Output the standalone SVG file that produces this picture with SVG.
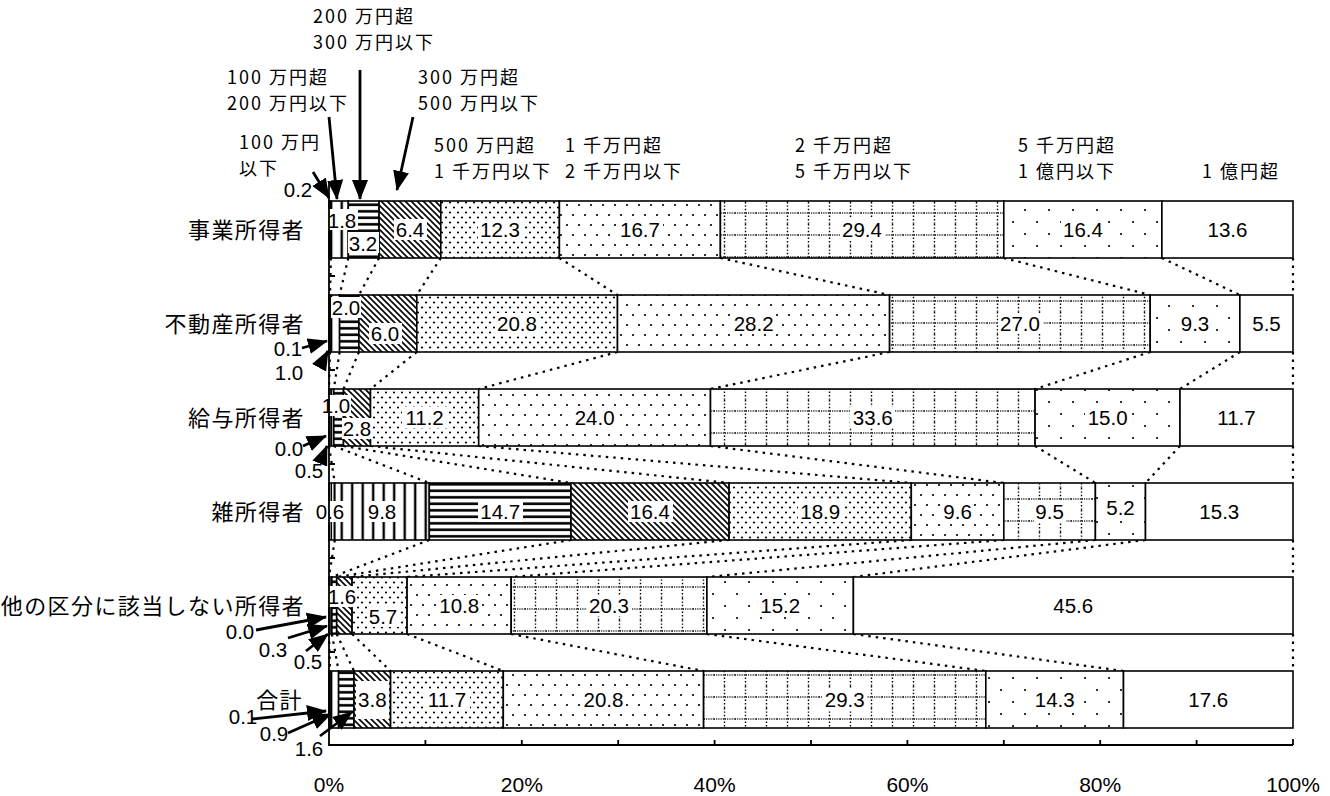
<svg xmlns="http://www.w3.org/2000/svg" width="1330" height="796" viewBox="0 0 1330 796">
<style>
.v{font-family:"Liberation Sans",Arial,sans-serif;font-size:20.5px;text-anchor:middle;fill:#000}
.cat{font-family:"Noto Sans CJK JP","Noto Sans CJK SC",sans-serif;font-size:22px;text-anchor:end;letter-spacing:1.4px;fill:#000}
.hd{font-family:"Noto Sans CJK JP","Noto Sans CJK SC",sans-serif;font-size:18px;letter-spacing:2px;fill:#000}
.ax{font-family:"Liberation Sans",Arial,sans-serif;font-size:21px;text-anchor:middle;fill:#000}
.seg{stroke:#000;stroke-width:1.6}
.bx{fill:#fff;stroke:none}
.sl{stroke:#000;stroke-width:2.2;stroke-dasharray:2.5,5;fill:none}
.ar{stroke:#000;stroke-width:2.8;fill:none;marker-end:url(#ah)}
.axl{stroke:#000;stroke-width:1.8;fill:none}
</style>
<defs>
<marker id="ah" markerWidth="20" markerHeight="16" refX="19" refY="8" orient="auto" markerUnits="userSpaceOnUse"><path d="M0,0 L20,8 L0,16 Z" fill="#000"/></marker>
<pattern id="p1" width="3" height="10" patternUnits="userSpaceOnUse"><rect width="3" height="10" fill="#fff"/><rect x="0.5" width="1.6" height="10" fill="#000"/></pattern>
<pattern id="p2" width="10.5" height="10" patternUnits="userSpaceOnUse"><rect width="10.5" height="10" fill="#fff"/><rect x="4.5" width="2.4" height="10" fill="#000"/></pattern>
<pattern id="p3" width="10" height="6.5" patternUnits="userSpaceOnUse"><rect width="10" height="6.5" fill="#fff"/><rect y="2" width="10" height="2.6" fill="#000"/></pattern>
<pattern id="p4" width="6" height="6" patternUnits="userSpaceOnUse"><rect width="6" height="6" fill="#fff"/><path d="M-1.5,-1.5 L7.5,7.5 M-1.5,4.5 L1.5,7.5 M4.5,-1.5 L7.5,1.5" stroke="#000" stroke-width="1.6"/></pattern>
<pattern id="p5" width="8" height="10" patternUnits="userSpaceOnUse"><rect width="8" height="10" fill="#fff"/><circle cx="2" cy="2.5" r="1.1" fill="#000"/><circle cx="6" cy="7.5" r="1.1" fill="#000"/></pattern>
<pattern id="p6" width="12" height="20" patternUnits="userSpaceOnUse"><rect width="12" height="20" fill="#fff"/><circle cx="3" cy="5" r="1.1" fill="#000"/><circle cx="9" cy="15" r="1.1" fill="#000"/></pattern>
<pattern id="p7" width="21" height="22" y="4" patternUnits="userSpaceOnUse"><rect width="21" height="22" fill="#fff"/><path d="M10.5,0 V22" stroke="#000" stroke-width="1.4" stroke-dasharray="1.4,2"/><path d="M0,11 H21" stroke="#000" stroke-width="1.3" stroke-dasharray="1,1.2"/></pattern>
<pattern id="p8" width="24" height="24" patternUnits="userSpaceOnUse"><rect width="24" height="24" fill="#fff"/><circle cx="5" cy="6" r="1.1" fill="#000"/><circle cx="17" cy="18" r="1.1" fill="#000"/></pattern>
</defs>
<rect width="1330" height="796" fill="#fff"/>

<g id="headers">
<text class="hd" x="313" y="23">200 万円超</text><text class="hd" x="313" y="49">300 万円以下</text>
<text class="hd" x="227" y="84">100 万円超</text><text class="hd" x="227" y="110">200 万円以下</text>
<text class="hd" x="418" y="84">300 万円超</text><text class="hd" x="418" y="110">500 万円以下</text>
<text class="hd" x="239" y="149">100 万円</text><text class="hd" x="239" y="175">以下</text>
<text class="hd" x="434" y="152">500 万円超</text><text class="hd" x="434" y="178">1 千万円以下</text>
<text class="hd" x="565" y="152">1 千万円超</text><text class="hd" x="565" y="178">2 千万円以下</text>
<text class="hd" x="795" y="152">2 千万円超</text><text class="hd" x="795" y="178">5 千万円以下</text>
<text class="hd" x="1018" y="152">5 千万円超</text><text class="hd" x="1018" y="178">1 億円以下</text>
<text class="hd" x="1202" y="178">1 億円超</text>
</g>

<g id="connectors">
<path class="sl" d="M330.9,258 L330,295 M348.3,258 L339.6,295 M379.1,258 L358.9,295 M440.8,258 L416.8,295 M559.4,258 L617.5,295 M720.4,258 L889.6,295 M1003.8,258 L1150.2,295 M1161.9,258 L1239.9,295 M1293,258 L1293,295"/>
<path class="sl" d="M330,352 L329,389 M339.6,352 L333.8,389 M358.9,352 L343.5,389 M416.8,352 L370.5,389 M617.5,352 L478.7,389 M889.6,352 L710.5,389 M1150.2,352 L1035.1,389 M1239.9,352 L1180,389 M1293,352 L1293,389"/>
<path class="sl" d="M329,446 L334.8,483 M333.8,446 L429.3,483 M343.5,446 L571,483 M370.5,446 L729.1,483 M478.7,446 L911.3,483 M710.5,446 L1003.8,483 M1035.1,446 L1095.4,483 M1180,446 L1145.5,483 M1293,446 L1293,483"/>
<path class="sl" d="M334.8,540 L329,577 M429.3,540 L331.9,577 M571,540 L336.7,577 M729.1,540 L352.1,577 M911.3,540 L407.1,577 M1003.8,540 L511.2,577 M1095.4,540 L706.9,577 M1145.5,540 L853.4,577 M1293,540 L1293,577"/>
<path class="sl" d="M329,634 L330,671 M331.9,634 L338.6,671 M336.7,634 L354,671 M352.1,634 L390.6,671 M407.1,634 L503.3,671 M511.2,634 L703.6,671 M706.9,634 L985.8,671 M853.4,634 L1123.5,671 M1293,634 L1293,671"/>
</g>

<g id="row1">
<text class="cat" x="305" y="238">事業所得者</text>
<rect class="seg" x="329" y="201" width="1.9" height="57" fill="url(#p1)"/>
<rect class="seg" x="330.9" y="201" width="17.4" height="57" fill="url(#p2)"/>
<rect class="seg" x="348.3" y="201" width="30.8" height="57" fill="url(#p3)"/>
<rect class="seg" x="379.1" y="201" width="61.7" height="57" fill="url(#p4)"/>
<rect class="seg" x="440.8" y="201" width="118.6" height="57" fill="url(#p5)"/>
<rect class="seg" x="559.4" y="201" width="161" height="57" fill="url(#p6)"/>
<rect class="seg" x="720.4" y="201" width="283.4" height="57" fill="url(#p7)"/>
<rect class="seg" x="1003.8" y="201" width="158.1" height="57" fill="url(#p8)"/>
<rect class="seg" x="1161.9" y="201" width="131.1" height="57" fill="#fff"/>
<rect class="bx" x="327" y="209" width="31" height="21"/><text class="v" x="342" y="227.5">1.8</text>
<rect class="bx" x="348" y="232" width="31" height="21"/><text class="v" x="363" y="250.5">3.2</text>
<rect class="bx" x="394" y="219" width="33" height="21"/><text class="v" x="410" y="237">6.4</text>
<rect class="bx" x="478" y="219" width="45" height="21"/><text class="v" x="500" y="237">12.3</text>
<rect class="bx" x="618" y="219" width="45" height="21"/><text class="v" x="640" y="237">16.7</text>
<rect class="bx" x="840" y="219" width="45" height="21"/><text class="v" x="862" y="237">29.4</text>
<rect class="bx" x="1061" y="219" width="45" height="21"/><text class="v" x="1083" y="237">16.4</text>
<text class="v" x="1227.5" y="237">13.6</text>
<text class="v" x="298" y="197">0.2</text>
</g>

<g id="row2">
<text class="cat" x="305" y="332">不動産所得者</text>
<rect class="seg" x="329" y="295" width="1" height="57" fill="url(#p1)"/>
<rect class="seg" x="330" y="295" width="9.6" height="57" fill="url(#p2)"/>
<rect class="seg" x="339.6" y="295" width="19.3" height="57" fill="url(#p3)"/>
<rect class="seg" x="358.9" y="295" width="57.9" height="57" fill="url(#p4)"/>
<rect class="seg" x="416.8" y="295" width="200.7" height="57" fill="url(#p5)"/>
<rect class="seg" x="617.5" y="295" width="272.1" height="57" fill="url(#p6)"/>
<rect class="seg" x="889.6" y="295" width="260.6" height="57" fill="url(#p7)"/>
<rect class="seg" x="1150.2" y="295" width="89.7" height="57" fill="url(#p8)"/>
<rect class="seg" x="1239.9" y="295" width="53.1" height="57" fill="#fff"/>
<rect class="bx" x="331" y="297" width="30" height="21"/><text class="v" x="346" y="314.5">2.0</text>
<rect class="bx" x="369" y="323" width="33" height="21"/><text class="v" x="385" y="341">6.0</text>
<rect class="bx" x="495" y="313" width="45" height="21"/><text class="v" x="517" y="331">20.8</text>
<rect class="bx" x="731" y="313" width="45" height="21"/><text class="v" x="753.6" y="331">28.2</text>
<rect class="bx" x="998" y="313" width="45" height="21"/><text class="v" x="1020" y="331">27.0</text>
<rect class="bx" x="1179" y="313" width="33" height="21"/><text class="v" x="1195" y="331">9.3</text>
<text class="v" x="1266.5" y="331">5.5</text>
<text class="v" x="288" y="356">0.1</text>
<text class="v" x="289" y="380">1.0</text>
</g>

<g id="row3">
<text class="cat" x="305" y="426">給与所得者</text>
<rect class="seg" x="329" y="389" width="4.8" height="57" fill="url(#p2)"/>
<rect class="seg" x="333.8" y="389" width="9.7" height="57" fill="url(#p3)"/>
<rect class="seg" x="343.5" y="389" width="27" height="57" fill="url(#p4)"/>
<rect class="seg" x="370.5" y="389" width="108.2" height="57" fill="url(#p5)"/>
<rect class="seg" x="478.7" y="389" width="231.8" height="57" fill="url(#p6)"/>
<rect class="seg" x="710.5" y="389" width="324.6" height="57" fill="url(#p7)"/>
<rect class="seg" x="1035.1" y="389" width="144.9" height="57" fill="url(#p8)"/>
<rect class="seg" x="1180" y="389" width="113" height="57" fill="#fff"/>
<rect class="bx" x="321" y="395" width="30" height="21"/><text class="v" x="336" y="412.5">1.0</text>
<rect class="bx" x="342" y="418" width="30" height="21"/><text class="v" x="357" y="435.5">2.8</text>
<rect class="bx" x="402" y="407" width="45" height="21"/><text class="v" x="424.6" y="425">11.2</text>
<rect class="bx" x="572" y="407" width="45" height="21"/><text class="v" x="594.6" y="425">24.0</text>
<rect class="bx" x="850" y="407" width="45" height="21"/><text class="v" x="872.8" y="425">33.6</text>
<rect class="bx" x="1085" y="407" width="45" height="21"/><text class="v" x="1107.6" y="425">15.0</text>
<text class="v" x="1236.5" y="425">11.7</text>
<text class="v" x="289" y="456">0.0</text>
<text class="v" x="309" y="478">0.5</text>
</g>

<g id="row4">
<text class="cat" x="305" y="520">雑所得者</text>
<rect class="seg" x="329" y="483" width="5.8" height="57" fill="url(#p1)"/>
<rect class="seg" x="334.8" y="483" width="94.5" height="57" fill="url(#p2)"/>
<rect class="seg" x="429.3" y="483" width="141.7" height="57" fill="url(#p3)"/>
<rect class="seg" x="571" y="483" width="158.1" height="57" fill="url(#p4)"/>
<rect class="seg" x="729.1" y="483" width="182.2" height="57" fill="url(#p5)"/>
<rect class="seg" x="911.3" y="483" width="92.5" height="57" fill="url(#p6)"/>
<rect class="seg" x="1003.8" y="483" width="91.6" height="57" fill="url(#p7)"/>
<rect class="seg" x="1095.4" y="483" width="50.1" height="57" fill="url(#p8)"/>
<rect class="seg" x="1145.5" y="483" width="147.5" height="57" fill="#fff"/>
<rect class="bx" x="314" y="501" width="32" height="21"/><text class="v" x="330" y="519">0.6</text>
<rect class="bx" x="366" y="501" width="32" height="21"/><text class="v" x="382" y="519">9.8</text>
<rect class="bx" x="478" y="501" width="45" height="21"/><text class="v" x="500.2" y="519">14.7</text>
<rect class="bx" x="628" y="501" width="45" height="21"/><text class="v" x="650" y="519">16.4</text>
<rect class="bx" x="798" y="501" width="45" height="21"/><text class="v" x="820.2" y="519">18.9</text>
<rect class="bx" x="942" y="501" width="32" height="21"/><text class="v" x="957.6" y="519">9.6</text>
<rect class="bx" x="1034" y="501" width="32" height="21"/><text class="v" x="1049.6" y="519">9.5</text>
<rect class="bx" x="1105" y="497" width="31" height="21"/><text class="v" x="1120.5" y="515">5.2</text>
<text class="v" x="1219.3" y="519">15.3</text>
</g>

<g id="row5">
<text class="cat" x="305" y="614">他の区分に該当しない所得者</text>
<rect class="seg" x="329" y="577" width="2.9" height="57" fill="url(#p2)"/>
<rect class="seg" x="331.9" y="577" width="4.8" height="57" fill="url(#p3)"/>
<rect class="seg" x="336.7" y="577" width="15.4" height="57" fill="url(#p4)"/>
<rect class="seg" x="352.1" y="577" width="55" height="57" fill="url(#p5)"/>
<rect class="seg" x="407.1" y="577" width="104.1" height="57" fill="url(#p6)"/>
<rect class="seg" x="511.2" y="577" width="195.7" height="57" fill="url(#p7)"/>
<rect class="seg" x="706.9" y="577" width="146.5" height="57" fill="url(#p8)"/>
<rect class="seg" x="853.4" y="577" width="439.6" height="57" fill="#fff"/>
<rect class="bx" x="328" y="586" width="28" height="21"/><text class="v" x="342" y="604">1.6</text>
<rect class="bx" x="367" y="606" width="32" height="21"/><text class="v" x="383" y="624">5.7</text>
<rect class="bx" x="437" y="595" width="45" height="21"/><text class="v" x="459.2" y="613">10.8</text>
<rect class="bx" x="587" y="595" width="45" height="21"/><text class="v" x="609" y="613">20.3</text>
<rect class="bx" x="758" y="595" width="45" height="21"/><text class="v" x="780.2" y="613">15.2</text>
<text class="v" x="1073.2" y="613">45.6</text>
<text class="v" x="240" y="639">0.0</text>
<text class="v" x="273" y="657">0.3</text>
<text class="v" x="308" y="669">0.5</text>
</g>

<g id="row6">
<text class="cat" x="303" y="708">合計</text>
<rect class="seg" x="329" y="671" width="1" height="57" fill="url(#p1)"/>
<rect class="seg" x="330" y="671" width="8.6" height="57" fill="url(#p2)"/>
<rect class="seg" x="338.6" y="671" width="15.4" height="57" fill="url(#p3)"/>
<rect class="seg" x="354" y="671" width="36.6" height="57" fill="url(#p4)"/>
<rect class="seg" x="390.6" y="671" width="112.7" height="57" fill="url(#p5)"/>
<rect class="seg" x="503.3" y="671" width="200.3" height="57" fill="url(#p6)"/>
<rect class="seg" x="703.6" y="671" width="282.2" height="57" fill="url(#p7)"/>
<rect class="seg" x="985.8" y="671" width="137.7" height="57" fill="url(#p8)"/>
<rect class="seg" x="1123.5" y="671" width="169.5" height="57" fill="#fff"/>
<rect class="bx" x="356" y="681" width="33" height="38"/><text class="v" x="372.3" y="707">3.8</text>
<rect class="bx" x="425" y="689" width="45" height="21"/><text class="v" x="447" y="707">11.7</text>
<rect class="bx" x="581" y="689" width="45" height="21"/><text class="v" x="603.5" y="707">20.8</text>
<rect class="bx" x="822" y="689" width="45" height="21"/><text class="v" x="844.7" y="707">29.3</text>
<rect class="bx" x="1032" y="689" width="45" height="21"/><text class="v" x="1054.7" y="707">14.3</text>
<text class="v" x="1208.3" y="707">17.6</text>
<text class="v" x="243" y="724">0.1</text>
<text class="v" x="274" y="741">0.9</text>
<text class="v" x="309" y="756">1.6</text>
</g>

<g id="arrows">
<path class="ar" d="M313,172 L329,198"/>
<path class="ar" d="M329,117 L337,199"/>
<path class="ar" d="M360,70 L360,199"/>
<path class="ar" d="M413,117 L397,190"/>
<path class="ar" d="M302,348 L327,341"/>
<path class="ar" d="M320,366 L328,351"/>
<path class="ar" d="M303,446 L326,436"/>
<path class="ar" d="M320,463 L327,446"/>
<path class="ar" d="M256,630 L326,617"/>
<path class="ar" d="M288,638 L327,626"/>
<path class="ar" d="M306,651 L328,634"/>
<path class="ar" d="M252,719 L326,711"/>
<path class="ar" d="M288,733 L331,714"/>
<path class="ar" d="M320,736 L352,712"/>
</g>

<g id="axes">
<path class="axl" d="M329,182 V745 H1293"/>
<path class="axl" d="M329,182 H335 M329,276 H335 M329,370 H335 M329,464 H335 M329,558 H335 M329,652 H335"/>
<path class="axl" d="M425.4,745 V740 M521.8,745 V740 M618.2,745 V740 M714.6,745 V740 M811,745 V740 M907.4,745 V740 M1003.8,745 V740 M1100.2,745 V740 M1196.6,745 V740 M1293,745 V739"/>
<text class="ax" x="329" y="792">0%</text>
<text class="ax" x="521.8" y="792">20%</text>
<text class="ax" x="714.6" y="792">40%</text>
<text class="ax" x="907.4" y="792">60%</text>
<text class="ax" x="1100.2" y="792">80%</text>
<text class="ax" x="1293" y="792">100%</text>
</g>
</svg>
